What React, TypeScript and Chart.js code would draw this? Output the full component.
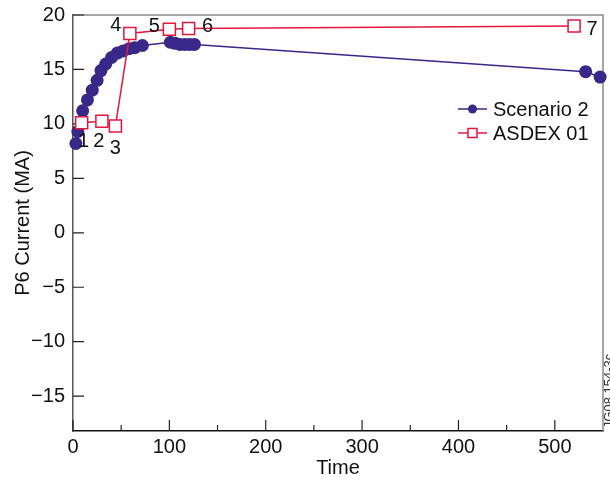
import React, { useEffect, useRef } from "react";
import { Chart, registerables } from "chart.js";
Chart.register(...registerables);

const scenario2Time = [3, 5, 10, 15, 20, 25, 29, 34, 40, 46, 52, 58, 64, 72, 101, 106, 111, 116, 121, 126, 532, 547];
const scenario2Current = [8.2, 9.3, 11.2, 12.2, 13.1, 14.0, 14.9, 15.5, 16.1, 16.5, 16.7, 16.9, 17.0, 17.2, 17.5, 17.4, 17.3, 17.3, 17.3, 17.3, 14.8, 14.3];
const asdexTime = [9, 30, 44, 59, 100, 120, 520];
const asdexCurrent = [10.1, 10.25, 9.8, 18.3, 18.7, 18.75, 19.0];
const asdexLabels = ["1", "2", "3", "4", "5", "6", "7"];
const xTicks = [0, 100, 200, 300, 400, 500];
const xMinorTicks = [50, 150, 250, 350, 450];
const yTicks = [-15, -10, -5, 0, 5, 10, 15, 20];
const seriesNames = ["Scenario 2", "ASDEX 01"];

const PURPLE = "#38288a";
const RED = "#e3173e";
const FONT = "Liberation Sans, Arial, sans-serif";
// label offsets (style, pixels) for the ASDEX point numbers
const labelOffsets = [
  [2, 19],
  [-3, 20],
  [0, 22],
  [-14, -8],
  [-15, -3],
  [19, -2],
  [18, 4],
];

const fmt = (v: number) => String(v).replace("-", "\u2212");

export default function App() {
  const ref = useRef<HTMLCanvasElement | null>(null);
  useEffect(() => {
    document.body.style.margin = "0";
    const canvas = ref.current!;
    const decor = {
      id: "decor",
      beforeDatasetsDraw(chart: any) {
        const { ctx, chartArea: a, scales } = chart;
        ctx.save();
        ctx.strokeStyle = "#8a8a8a";
        ctx.lineWidth = 1.5;
        ctx.beginPath();
        ctx.moveTo(a.left, a.top);
        ctx.lineTo(a.right, a.top);
        ctx.lineTo(a.right, a.bottom);
        ctx.stroke();
        ctx.strokeStyle = "#222";
        ctx.lineWidth = 1.2;
        ctx.beginPath();
        xTicks.forEach((t) => {
          const x = scales.x.getPixelForValue(t);
          ctx.moveTo(x, a.bottom);
          ctx.lineTo(x, a.bottom - 11);
        });
        xMinorTicks.forEach((t) => {
          const x = scales.x.getPixelForValue(t);
          ctx.moveTo(x, a.bottom);
          ctx.lineTo(x, a.bottom - 6);
        });
        yTicks.forEach((t) => {
          const y = scales.y.getPixelForValue(t);
          ctx.moveTo(a.left, y);
          ctx.lineTo(a.left + 11, y);
        });
        ctx.stroke();
        ctx.restore();
      },
      afterDatasetsDraw(chart: any) {
        const { ctx, scales } = chart;
        ctx.save();
        ctx.font = `20px ${FONT}`;
        ctx.fillStyle = "#111";
        ctx.textAlign = "center";
        ctx.textBaseline = "middle";
        asdexLabels.forEach((lab, i) => {
          const x = scales.x.getPixelForValue(asdexTime[i]) + labelOffsets[i][0];
          const y = scales.y.getPixelForValue(asdexCurrent[i]) + labelOffsets[i][1];
          ctx.fillText(lab, x, y);
        });
        const rows = [109, 133];
        rows.forEach((ry, i) => {
          const color = i === 0 ? PURPLE : RED;
          ctx.strokeStyle = color;
          ctx.lineWidth = 1.5;
          ctx.beginPath();
          ctx.moveTo(458, ry);
          ctx.lineTo(487, ry);
          ctx.stroke();
          if (i === 0) {
            ctx.fillStyle = PURPLE;
            ctx.beginPath();
            ctx.arc(472.5, ry, 4.5, 0, Math.PI * 2);
            ctx.fill();
          } else {
            ctx.fillStyle = "#fff";
            ctx.fillRect(468, ry - 4.5, 9, 9);
            ctx.strokeRect(468, ry - 4.5, 9, 9);
          }
          ctx.fillStyle = "#111";
          ctx.textAlign = "left";
          ctx.fillText(seriesNames[i], 493, ry + 1);
        });
        ctx.translate(609, 391);
        ctx.rotate(-Math.PI / 2);
        ctx.font = `13px ${FONT}`;
        ctx.fillStyle = "#333";
        ctx.textAlign = "center";
        ctx.fillText("JG08.154-3c", 0, 0);
        ctx.restore();
      },
    };
    const chart = new Chart(canvas, {
      type: "scatter",
      data: {
        datasets: [
          {
            label: seriesNames[1],
            data: asdexTime.map((x, i) => ({ x, y: asdexCurrent[i] })),
            showLine: true,
            borderColor: RED,
            borderWidth: 1.5,
            pointStyle: "rect",
            pointRadius: 8.5,
            pointBackgroundColor: "#fff",
            pointBorderColor: RED,
            pointBorderWidth: 1.5,
            clip: false as any,
          },
          {
            label: seriesNames[0],
            data: scenario2Time.map((x, i) => ({ x, y: scenario2Current[i] })),
            showLine: true,
            borderColor: PURPLE,
            borderWidth: 1.5,
            pointStyle: "circle",
            pointRadius: 6.5,
            pointBackgroundColor: PURPLE,
            pointBorderColor: PURPLE,
            pointBorderWidth: 0,
            clip: false as any,
          },
        ],
      },
      options: {
        responsive: false,
        animation: false,
        layout: { autoPadding: false, padding: { left: 0, top: 15, right: 7, bottom: 0 } },
        plugins: { legend: { display: false }, tooltip: { enabled: false } },
        scales: {
          x: {
            type: "linear",
            min: 0,
            max: 550,
            afterBuildTicks: (s: any) => {
              s.ticks = xTicks.map((v) => ({ value: v }));
            },
            afterFit: (s: any) => {
              s.height = 49;
              s.paddingLeft = 0;
              s.paddingRight = 0;
            },
            grid: { display: false, drawTicks: false },
            border: { display: true, color: "#111", width: 1.5 },
            ticks: {
              padding: 4,
              color: "#111",
              font: { family: FONT, size: 20 },
              callback: (v: any) => fmt(v),
              maxRotation: 0,
            },
            title: {
              display: true,
              text: "Time",
              color: "#111",
              font: { family: FONT, size: 20 },
              padding: { top: 0, bottom: 0 },
            },
          },
          y: {
            type: "linear",
            min: -18.2,
            max: 20,
            afterBuildTicks: (s: any) => {
              s.ticks = yTicks.map((v) => ({ value: v }));
            },
            afterFit: (s: any) => {
              s.width = 73;
              s.paddingTop = 0;
              s.paddingBottom = 0;
            },
            grid: { display: false, drawTicks: false },
            border: { display: true, color: "#555", width: 1.5 },
            ticks: {
              padding: 8,
              color: "#111",
              font: { family: FONT, size: 20 },
              callback: (v: any) => fmt(v),
            },
            title: {
              display: true,
              text: "P6 Current (MA)",
              color: "#111",
              font: { family: FONT, size: 20 },
              padding: { top: 11, bottom: 0 },
            },
          },
        },
      },
      plugins: [decor],
    } as any);
    return () => chart.destroy();
  }, []);
  return (
    <div style={{ width: 610, height: 480 }}>
      <canvas ref={ref} width={610} height={480} style={{ display: "block" }} />
    </div>
  );
}
